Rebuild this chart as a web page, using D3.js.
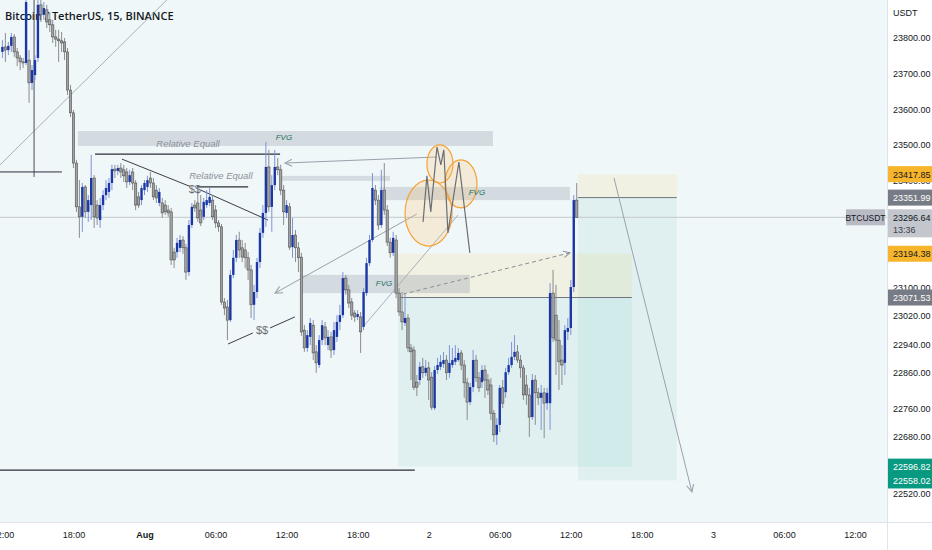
<!DOCTYPE html>
<html><head><meta charset="utf-8">
<script src="https://cdn.jsdelivr.net/npm/d3@7"></script>
<style>
body{margin:0;background:#ffffff;}
svg{display:block;font-family:"Liberation Sans",Arial,sans-serif;}
</style>
</head><body>
<svg id="c" width="932" height="550"></svg>
<script>
// ---- DATA (BTCUSDT 15m, Binance) ----
const opens = [
23761,23775,23766,23778,23803,23761,23744,23733,23730,23738,
23674,23696,23744,23893,23865,23879,23851,23837,23803,23797,
23792,23789,23761,23654,23590,23449,23326,23298,23382,23312,
23331,23407,23331,23289,23331,23359,23368,23393,23432,23427,
23435,23430,23424,23396,23424,23393,23354,23345,23373,23382,
23407,23393,23373,23337,23337,23331,23317,23312,23199,23199,
23211,23233,23211,23143,23275,23331,23337,23317,23298,23331,
23337,23345,23317,23281,23270,23059,23045,23008,23135,23183,
23233,23211,23205,23183,23149,23051,23087,23171,23253,23309,
23438,23326,23387,23438,23430,23373,23309,23326,23213,23247,
23211,23185,22980,22930,22961,22994,22919,22882,22952,22989,
22938,22961,22924,22961,23003,23022,23126,23093,23059,23028,
23017,23017,22989,23084,23168,23233,23373,23345,23275,23373,
23317,23227,23197,23233,23084,23031,23000,23014,22930,22924,
22834,22840,22877,22860,22874,22848,22761,22868,22877,22885,
22896,22860,22882,22891,22896,22916,22882,22832,22778,22820,
22896,22846,22834,22868,22840,22826,22747,22686,22714,22818,
22806,22862,22882,22905,22919,22896,22874,22826,22798,22736,
22840,22804,22790,22804,22775,22775,23084,23022,22952,22896,
22888,22975,22986,23101,23345];
const highs = [
23794,23814,23789,23814,23811,23772,23752,23744,23929,23766,
23724,23752,23921,23912,23901,23893,23873,23851,23823,23823,
23817,23800,23772,23668,23598,23458,23401,23393,23387,23359,
23472,23415,23345,23351,23373,23401,23407,23444,23444,23444,
23449,23444,23435,23430,23435,23401,23368,23387,23401,23413,
23424,23407,23387,23379,23351,23345,23331,23323,23211,23239,
23247,23244,23222,23289,23337,23345,23373,23359,23351,23373,
23379,23359,23331,23289,23278,23070,23065,23149,23205,23247,
23256,23233,23225,23199,23163,23107,23183,23267,23331,23508,
23486,23415,23486,23463,23444,23387,23345,23337,23295,23261,
23227,23197,22994,22980,23014,23008,22938,22966,23008,23003,
22980,22975,23003,23022,23051,23143,23135,23107,23070,23036,
23036,23031,23098,23183,23247,23421,23387,23359,23430,23449,
23331,23239,23256,23247,23098,23087,23084,23025,22941,22935,
22854,22891,22902,22896,22891,22862,22879,22902,22910,22919,
22910,22938,22930,22938,22930,22924,22896,22846,22832,22924,
22910,22862,22882,22882,22857,22846,22756,22733,22826,22840,
22874,22902,22947,22966,22938,22910,22882,22854,22818,22857,
22854,22818,22826,22818,22818,23112,23149,23107,23008,22938,
22994,23014,23121,23359,23393];
const lows = [
23744,23733,23752,23761,23747,23721,23710,23716,23724,23618,
23654,23682,23733,23845,23851,23828,23817,23786,23775,23733,
23761,23738,23640,23578,23435,23312,23239,23256,23295,23284,
23289,23267,23275,23267,23317,23345,23351,23373,23407,23415,
23407,23396,23379,23387,23373,23317,23323,23331,23359,23368,
23379,23345,23337,23328,23295,23303,23298,23163,23154,23183,
23199,23194,23121,23132,23267,23312,23284,23272,23289,23323,
23328,23289,23267,23256,23051,23022,22952,23003,23126,23171,
23183,23171,23154,23121,23014,23008,23070,23154,23239,23270,
23312,23256,23373,23415,23359,23275,23295,23205,23183,23171,
23143,22964,22919,22919,22938,22896,22860,22874,22938,22938,
22924,22902,22910,22947,22980,23014,23079,23042,23008,23003,
23008,22916,22980,23076,23160,23227,23331,23261,23267,23303,
23216,23183,23188,23070,23020,22980,22992,22919,22840,22812,
22795,22826,22846,22851,22784,22756,22756,22857,22868,22874,
22840,22846,22874,22882,22891,22868,22790,22728,22770,22806,
22834,22806,22818,22790,22798,22728,22666,22658,22694,22761,
22790,22854,22874,22896,22888,22846,22784,22770,22680,22728,
22714,22770,22700,22677,22756,22700,22947,22854,22812,22826,
22854,22952,22966,23087,23295];
const closes = [
23775,23766,23778,23803,23761,23744,23733,23730,23901,23674,
23710,23738,23893,23865,23884,23845,23837,23803,23797,23792,
23786,23761,23654,23590,23449,23326,23298,23382,23312,23345,
23407,23298,23295,23331,23359,23379,23393,23432,23427,23435,
23424,23413,23396,23415,23393,23331,23331,23379,23393,23401,
23393,23354,23351,23368,23309,23312,23309,23177,23177,23225,
23233,23211,23143,23275,23326,23323,23295,23281,23340,23345,
23354,23298,23281,23270,23059,23042,23008,23135,23183,23233,
23205,23185,23183,23149,23051,23087,23171,23253,23309,23438,
23326,23387,23438,23430,23373,23312,23331,23213,23247,23211,
23183,22975,22930,22966,23000,22916,22888,22952,22994,22958,
22961,22924,22980,23003,23022,23126,23093,23056,23022,23017,
23025,22975,23087,23168,23233,23379,23345,23275,23373,23317,
23227,23197,23239,23084,23031,23003,23014,22930,22919,22820,
22820,22877,22860,22874,22840,22764,22868,22882,22891,22896,
22860,22888,22896,22902,22916,22882,22832,22778,22820,22896,
22846,22818,22868,22840,22812,22747,22686,22714,22818,22775,
22862,22882,22905,22919,22896,22874,22798,22798,22736,22840,
22804,22790,22804,22775,22804,23084,22958,22952,22891,22882,
22980,22986,23101,23345,23296.64];

const priceTicks = [23800,23700,23600,23500,23400,23100,23020,22940,22860,22760,22680,22520];
const timeTickLabels = ["12:00","18:00","Aug","06:00","12:00","18:00","2","06:00","12:00","18:00","3","06:00","12:00"];
const lastPrice = 23296.64;
const countdown = "13:36";
// position tools: [startBar, endBar, entry, stop, target]
const positionTools = [
  [133.6, 212.6, 23071.53, 23194.38, 22596.82],
  [194.4, 227.8, 23351.99, 23417.85, 22558.02]
];
// FVG zones: [startBar, endBar, top, bottom]
const fvgZones = [
  [25.5, 165.7, 23539, 23497],
  [127.5, 191.7, 23382, 23345],
  [101.2, 157.9, 23135, 23084]
];
const fvgLabels = [[95.1, 23519], [160.3, 23365], [128.9, 23110]];

// ---- SETUP ----
const W = 932, H = 550, CW = 887, CH = 522;
const svg = d3.select("#c");
const t0 = Date.UTC(2022, 6, 31, 12);
const step = 15 * 60 * 1000;
const x = d3.scaleUtc().domain([new Date(t0), new Date(Date.UTC(2022, 7, 3, 12))]).range([2.4, 855]);
const xi = i => x(new Date(t0 + i * step));
const y = d3.scaleLinear().domain([22520, 23800]).range([494, 38]);

svg.append("rect").attr("width", W).attr("height", H).attr("fill", "#ffffff");
svg.append("rect").attr("width", CW).attr("height", CH).attr("fill", "#f0f7f9");
svg.append("defs").html(`
<clipPath id="clip"><rect x="0" y="0" width="${CW}" height="${CH}"/></clipPath>
<marker id="arr" viewBox="0 0 10 10" refX="9" refY="5" markerWidth="9" markerHeight="9" orient="auto" markerUnits="userSpaceOnUse">
<path d="M1,1 L9,5 L1,9" fill="none" stroke="#9aa1ab" stroke-width="1.2"/></marker>
<marker id="arrD" viewBox="0 0 10 10" refX="9" refY="5" markerWidth="8" markerHeight="8" orient="auto" markerUnits="userSpaceOnUse">
<path d="M1,1 L9,5 L1,9" fill="none" stroke="#8a8f98" stroke-width="1.2"/></marker>`);

const g = svg.append("g").attr("clip-path", "url(#clip)");

// title (behind candles)
g.append("text").attr("x", 5).attr("y", 20).attr("font-family", "'Open Sans',sans-serif")
  .attr("font-size", 11).attr("font-weight", 600).attr("fill", "#131722")
  .text("Bitcoin / TetherUS, 15, BINANCE");

// position tools
positionTools.forEach(([s, e, entry, stop, target]) => {
  g.append("rect").attr("x", xi(s)).attr("width", xi(e) - xi(s))
    .attr("y", y(stop)).attr("height", y(entry) - y(stop)).attr("fill", "rgba(245,215,120,0.18)");
  g.append("rect").attr("x", xi(s)).attr("width", xi(e) - xi(s))
    .attr("y", y(entry)).attr("height", y(target) - y(entry)).attr("fill", "rgba(20,150,140,0.07)");
});

// FVG zones
fvgZones.forEach(([s, e, top, bot]) => {
  g.append("rect").attr("x", xi(s)).attr("width", xi(e) - xi(s))
    .attr("y", y(top)).attr("height", y(bot) - y(top)).attr("fill", "rgba(150,160,170,0.32)");
});
// thin gray zone
g.append("rect").attr("x", xi(93.8)).attr("width", xi(130.9) - xi(93.8))
  .attr("y", y(23413)).attr("height", y(23399) - y(23413)).attr("fill", "rgba(150,160,170,0.3)");

// entry lines
positionTools.forEach(([s, e, entry]) => {
  g.append("line").attr("x1", xi(s)).attr("x2", xi(e)).attr("y1", y(entry)).attr("y2", y(entry))
    .attr("stroke", "#6f737b").attr("stroke-width", 1);
});

// last price line
g.append("line").attr("x1", 0).attr("x2", CW).attr("y1", y(lastPrice)).attr("y2", y(lastPrice))
  .attr("stroke", "#c3c8cf").attr("stroke-width", 1);

const seg = (a, b, stroke, w, extra) => {
  const l = g.append("line").attr("x1", xi(a[0])).attr("y1", y(a[1])).attr("x2", xi(b[0])).attr("y2", y(b[1]))
    .attr("stroke", stroke).attr("stroke-width", w);
  if (extra) extra(l);
  return l;
};

// annotation lines
seg([-0.8, 23444], [62, 23960], "#a9b0b8", 1);
seg([10.7, 23960], [10.7, 23410], "#4a4f5a", 1);
seg([-0.8, 23424], [20.1, 23424], "#2a2e39", 1);
seg([31.3, 23474], [93.8, 23474], "#2a2e39", 1.2);
seg([65.7, 23382], [83.0, 23382], "#2a2e39", 1.2);
seg([40.4, 23460], [63.5, 23383], "#3a3e48", 1);
seg([67.0, 23373], [89.7, 23289], "#3a3e48", 1);
seg([76.2, 22941], [84.6, 22972], "#3a3e48", 1);
seg([90.4, 22986], [98.8, 23017], "#3a3e48", 1);
seg([-0.8, 22587], [139.3, 22587], "#2a2e39", 1.2);
seg([146.8, 23466], [95.4, 23449], "#9aa1ab", 1, l => l.attr("marker-end", "url(#arr)"));
seg([140.0, 23306], [92.1, 23084], "#9aa1ab", 1, l => l.attr("marker-end", "url(#arr)"));
seg([121.8, 22989], [153.9, 23303], "#a9b0b8", 1);
seg([135.3, 23081], [191.7, 23197], "#8a8f98", 1, l => l.attr("stroke-dasharray", "4,3").attr("marker-end", "url(#arrD)"));
seg([206.6, 23407], [232.9, 22526], "#9aa1ab", 1, l => l.attr("marker-end", "url(#arr)"));

// candles
const candles = closes.map((c, i) => ({ i, o: opens[i], h: highs[i], l: lows[i], c }));
const cg = g.append("g");
cg.selectAll("line.w").data(candles).join("line")
  .attr("x1", d => xi(d.i)).attr("x2", d => xi(d.i))
  .attr("y1", d => y(d.h)).attr("y2", d => y(d.l))
  .attr("stroke", d => d.c >= d.o ? "#7f92d8" : "#8c8c8c").attr("stroke-width", 1);
cg.selectAll("rect.b").data(candles).join("rect")
  .attr("x", d => xi(d.i) - 1.2).attr("width", 2.4)
  .attr("y", d => y(Math.max(d.o, d.c)))
  .attr("height", d => Math.max(1, Math.abs(y(d.o) - y(d.c))))
  .attr("fill", d => d.c >= d.o ? "#1b37a6" : "#a2a2a2")
  .attr("stroke", d => d.c >= d.o ? "none" : "#3f3f3f").attr("stroke-width", 0.5);

// orange circles (bounding boxes: bar0, bar1, priceTop, priceBottom)
const circles = [[136.0, 151.9, 23401, 23216], [143.4, 152.2, 23500, 23393], [149.5, 160.3, 23458, 23323]];
circles.forEach(([a, b, pt, pb]) => {
  g.append("ellipse").attr("cx", (xi(a) + xi(b)) / 2).attr("cy", (y(pt) + y(pb)) / 2)
    .attr("rx", (xi(b) - xi(a)) / 2).attr("ry", (y(pb) - y(pt)) / 2)
    .attr("fill", "rgba(255,190,100,0.22)").attr("stroke", "#f2a33a").attr("stroke-width", 1.2);
});
// zigzag
const zig = [[142.1, 23284], [143.4, 23413], [144.7, 23312], [146.8, 23494], [148.1, 23444], [149.1, 23486], [150.5, 23253], [154.2, 23452], [157.9, 23197]];
g.append("path").attr("d", d3.line().x(d => xi(d[0])).y(d => y(d[1]))(zig))
  .attr("fill", "none").attr("stroke", "#6a6e76").attr("stroke-width", 1.2);

// labels
const lab = (i, p, txt, opts) => {
  const t = g.append("text").attr("x", xi(i)).attr("y", y(p)).attr("text-anchor", "middle")
    .attr("dominant-baseline", "middle").text(txt);
  Object.entries(opts).forEach(([k, v]) => t.attr(k, v));
};
lab(62.7, 23502, "Relative Equall", { "font-size": 9.5, "font-style": "italic", fill: "#8b9098" });
lab(73.8, 23410, "Relative Equall", { "font-size": 9.5, "font-style": "italic", fill: "#8b9098" });
fvgLabels.forEach(([i, p]) => lab(i, p, "FVG", { "font-size": 8, "font-style": "italic", fill: "#1f6e61" }));
lab(65.0, 23373, "$$", { "font-size": 11, fill: "#6a6e76" });
lab(87.7, 22978, "$$", { "font-size": 11, fill: "#6a6e76" });

// BTCUSDT label on last price line
svg.append("rect").attr("x", 846).attr("y", y(lastPrice) - 8).attr("width", 39).attr("height", 16).attr("fill", "#b8bbc3");
svg.append("text").attr("x", 865.5).attr("y", y(lastPrice) + 3.5).attr("text-anchor", "middle")
  .attr("font-size", 8.5).attr("fill", "#131722").text("BTCUSDT");

// axes borders
svg.append("line").attr("x1", CW + 0.5).attr("x2", CW + 0.5).attr("y1", 0).attr("y2", H).attr("stroke", "#e0e3eb");
svg.append("line").attr("x1", 0).attr("x2", W).attr("y1", CH + 0.5).attr("y2", CH + 0.5).attr("stroke", "#e0e3eb");

// right axis
const ya = svg.append("g").attr("transform", `translate(${CW},0)`)
  .call(d3.axisRight(y).tickValues(priceTicks).tickFormat(d => d.toFixed(2)).tickSize(0).tickPadding(6));
ya.select(".domain").remove();
ya.selectAll("text").attr("font-size", 9).attr("fill", "#131722").attr("font-family", "'Liberation Sans',sans-serif");
svg.append("text").attr("x", 893).attr("y", 16).attr("font-size", 9).attr("fill", "#131722").text("USDT");

// price markers
const markers = [
  [23417.85, "#f7b52b", "#131722"],
  [23351.99, "#777b85", "#ffffff"],
  [23194.38, "#f7b52b", "#131722"],
  [23071.53, "#777b85", "#ffffff"],
  [22596.82, "#089981", "#ffffff"],
  [22558.02, "#089981", "#ffffff"]
];
markers.forEach(([v, bg, fg]) => {
  svg.append("rect").attr("x", CW + 1).attr("y", y(v) - 8).attr("width", W - CW - 1).attr("height", 16).attr("fill", bg);
  svg.append("text").attr("x", 893).attr("y", y(v) + 3.5).attr("font-size", 9).attr("fill", fg).text(v.toFixed(2));
});
svg.append("rect").attr("x", CW + 1).attr("y", y(lastPrice) - 8).attr("width", W - CW - 1).attr("height", 28).attr("fill", "#c3c6cd");
svg.append("text").attr("x", 893).attr("y", y(lastPrice) + 3.5).attr("font-size", 9).attr("fill", "#131722").text(lastPrice.toFixed(2));
svg.append("text").attr("x", 893).attr("y", y(lastPrice) + 16).attr("font-size", 9).attr("fill", "#3b3f48").text(countdown);

// bottom axis
const tickDates = timeTickLabels.map((_, k) => new Date(t0 + k * 6 * 3600 * 1000));
const xa = svg.append("g").attr("transform", `translate(0,${CH})`)
  .call(d3.axisBottom(x).tickValues(tickDates).tickFormat((d, k) => timeTickLabels[k]).tickSize(0).tickPadding(10));
xa.select(".domain").remove();
xa.selectAll("text").attr("font-size", 9).attr("fill", "#131722")
  .attr("font-weight", (d, k) => timeTickLabels[k] === "Aug" ? 700 : 400);
</script>
</body></html>
